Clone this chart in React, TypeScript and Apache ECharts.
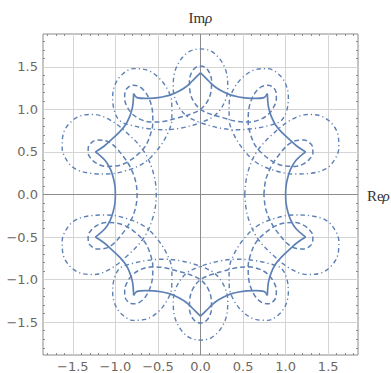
import React, { useEffect, useRef } from "react";
import * as echarts from "echarts";

// ---- values ----
const majorTicks = [-1.5, -1.0, -0.5, 0.0, 0.5, 1.0, 1.5];
const minorTicks = [-1.8, -1.7, -1.6, -1.4, -1.3, -1.2, -1.1, -0.9, -0.8, -0.7, -0.6, -0.4, -0.3, -0.2, -0.1,
  0.1, 0.2, 0.3, 0.4, 0.6, 0.7, 0.8, 0.9, 1.1, 1.2, 1.3, 1.4, 1.6, 1.7, 1.8];

// solid curve: ten arcs between the cusps
const solidArcs: number[][][] = [
  [[1.235, -0.5], [1.12, -0.4], [1.06, -0.3], [1.025, -0.2], [1.005, -0.1], [1.0, 0], [1.005, 0.1], [1.025, 0.2], [1.06, 0.3], [1.12, 0.4], [1.235, 0.5]],
  [[1.235, 0.5], [1.13, 0.57], [1.04, 0.65], [0.95, 0.735], [0.88, 0.82], [0.83, 0.92], [0.8, 1.02], [0.79, 1.1], [0.785, 1.185]],
  [[0.785, 1.185], [0.745, 1.138], [0.65, 1.128], [0.55, 1.132], [0.45, 1.145], [0.35, 1.17], [0.25, 1.215], [0.17, 1.265], [0.1, 1.33], [0.04, 1.39], [0, 1.43]],
  [[0, 1.43], [-0.04, 1.39], [-0.1, 1.33], [-0.17, 1.265], [-0.25, 1.215], [-0.35, 1.17], [-0.45, 1.145], [-0.55, 1.132], [-0.65, 1.128], [-0.745, 1.138], [-0.785, 1.185]],
  [[-0.785, 1.185], [-0.79, 1.1], [-0.8, 1.02], [-0.83, 0.92], [-0.88, 0.82], [-0.95, 0.735], [-1.04, 0.65], [-1.13, 0.57], [-1.235, 0.5]],
  [[-1.235, 0.5], [-1.12, 0.4], [-1.06, 0.3], [-1.025, 0.2], [-1.005, 0.1], [-1.0, 0], [-1.005, -0.1], [-1.025, -0.2], [-1.06, -0.3], [-1.12, -0.4], [-1.235, -0.5]],
  [[-1.235, -0.5], [-1.13, -0.57], [-1.04, -0.65], [-0.95, -0.735], [-0.88, -0.82], [-0.83, -0.92], [-0.8, -1.02], [-0.79, -1.1], [-0.785, -1.185]],
  [[-0.785, -1.185], [-0.745, -1.138], [-0.65, -1.128], [-0.55, -1.132], [-0.45, -1.145], [-0.35, -1.17], [-0.25, -1.215], [-0.17, -1.265], [-0.1, -1.33], [-0.04, -1.39], [0, -1.43]],
  [[0, -1.43], [0.04, -1.39], [0.1, -1.33], [0.17, -1.265], [0.25, -1.215], [0.35, -1.17], [0.45, -1.145], [0.55, -1.132], [0.65, -1.128], [0.745, -1.138], [0.785, -1.185]],
  [[0.785, -1.185], [0.79, -1.1], [0.8, -1.02], [0.83, -0.92], [0.88, -0.82], [0.95, -0.735], [1.04, -0.65], [1.13, -0.57], [1.235, -0.5]],
];

// dashed curve, traced in four consecutive pieces
const dashedA: number[][] = [
  [0.745, 0], [0.765, 0.165], [0.83, 0.33], [0.925, 0.47], [1.03, 0.585], [1.13, 0.635], [1.215, 0.64], [1.28, 0.61],
  [1.318, 0.555], [1.32, 0.485], [1.28, 0.415], [1.21, 0.36], [1.11, 0.33], [0.99, 0.335], [0.87, 0.375], [0.755, 0.455],
  [0.65, 0.565], [0.59, 0.7], [0.56, 0.845], [0.565, 0.985], [0.596, 1.107], [0.65, 1.206], [0.718, 1.266], [0.789, 1.284],
  [0.847, 1.262], [0.886, 1.205], [0.891, 1.124], [0.862, 1.031], [0.797, 0.942], [0.7, 0.88], [0.57, 0.85], [0.42, 0.86],
  [0.27, 0.9], [0.13, 0.94], [0, 1.0], [-0.085, 1.1], [-0.125, 1.22], [-0.13, 1.335], [-0.106, 1.43], [-0.059, 1.49], [0, 1.51],
];
const dashedB: number[][] = [
  [0.059, 1.49], [0.106, 1.43], [0.13, 1.335], [0.125, 1.22], [0.085, 1.1], [0, 1.0], [-0.13, 0.94], [-0.27, 0.9],
  [-0.42, 0.86], [-0.57, 0.85], [-0.7, 0.88], [-0.797, 0.942], [-0.862, 1.031], [-0.891, 1.124], [-0.886, 1.205], [-0.847, 1.262],
  [-0.789, 1.284], [-0.718, 1.266], [-0.65, 1.206], [-0.596, 1.107], [-0.565, 0.985], [-0.56, 0.845], [-0.59, 0.7], [-0.65, 0.565],
  [-0.755, 0.455], [-0.87, 0.375], [-0.99, 0.335], [-1.11, 0.33], [-1.21, 0.36], [-1.28, 0.415], [-1.32, 0.485], [-1.318, 0.555],
  [-1.28, 0.61], [-1.215, 0.64], [-1.13, 0.635], [-1.03, 0.585], [-0.925, 0.47], [-0.83, 0.33], [-0.765, 0.165], [-0.745, 0],
];
const dashedC: number[][] = [
  [-0.765, -0.165], [-0.83, -0.33], [-0.925, -0.47], [-1.03, -0.585], [-1.13, -0.635], [-1.215, -0.64], [-1.28, -0.61], [-1.318, -0.555],
  [-1.32, -0.485], [-1.28, -0.415], [-1.21, -0.36], [-1.11, -0.33], [-0.99, -0.335], [-0.87, -0.375], [-0.755, -0.455], [-0.65, -0.565],
  [-0.59, -0.7], [-0.56, -0.845], [-0.565, -0.985], [-0.596, -1.107], [-0.65, -1.206], [-0.718, -1.266], [-0.789, -1.284], [-0.847, -1.262],
  [-0.886, -1.205], [-0.891, -1.124], [-0.862, -1.031], [-0.797, -0.942], [-0.7, -0.88], [-0.57, -0.85], [-0.42, -0.86], [-0.27, -0.9],
  [-0.13, -0.94], [0, -1.0], [0.085, -1.1], [0.125, -1.22], [0.13, -1.335], [0.106, -1.43], [0.059, -1.49],
];
const dashedD: number[][] = [
  [0, -1.51], [-0.059, -1.49], [-0.106, -1.43], [-0.13, -1.335], [-0.125, -1.22], [-0.085, -1.1], [0, -1.0], [0.13, -0.94],
  [0.27, -0.9], [0.42, -0.86], [0.57, -0.85], [0.7, -0.88], [0.797, -0.942], [0.862, -1.031], [0.891, -1.124], [0.886, -1.205],
  [0.847, -1.262], [0.789, -1.284], [0.718, -1.266], [0.65, -1.206], [0.596, -1.107], [0.565, -0.985], [0.56, -0.845], [0.59, -0.7],
  [0.65, -0.565], [0.755, -0.455], [0.87, -0.375], [0.99, -0.335], [1.11, -0.33], [1.21, -0.36], [1.28, -0.415], [1.32, -0.485],
  [1.318, -0.555], [1.28, -0.61], [1.215, -0.64], [1.13, -0.635], [1.03, -0.585], [0.925, -0.47], [0.83, -0.33], [0.765, -0.165], [0.745, 0],
];

// dot-dashed curve, traced in four consecutive pieces
const dotDashA: number[][] = [
  [0.52, 0], [0.55, 0.24], [0.66, 0.5], [0.86, 0.72], [1.07, 0.88], [1.26, 0.94], [1.42, 0.92], [1.545, 0.83],
  [1.615, 0.7], [1.625, 0.55], [1.57, 0.4], [1.47, 0.3], [1.3, 0.25], [1.1, 0.24], [0.875, 0.28], [0.665, 0.37],
  [0.51, 0.52], [0.394, 0.7], [0.336, 0.89], [0.338, 1.085], [0.396, 1.25], [0.508, 1.387], [0.646, 1.467], [0.788, 1.478],
  [0.911, 1.419], [0.998, 1.303], [1.032, 1.146], [1.009, 0.973], [0.94, 0.86], [0.8, 0.81], [0.63, 0.775], [0.43, 0.76],
  [0.23, 0.78], [0.01, 0.84], [-0.164, 0.925], [-0.275, 1.068], [-0.32, 1.25], [-0.305, 1.43], [-0.235, 1.58], [-0.13, 1.68], [0, 1.71],
];
const dotDashB: number[][] = [
  [0.13, 1.68], [0.235, 1.58], [0.305, 1.43], [0.32, 1.25], [0.275, 1.068], [0.164, 0.925], [-0.01, 0.84], [-0.23, 0.78],
  [-0.43, 0.76], [-0.63, 0.775], [-0.8, 0.81], [-0.94, 0.86], [-1.009, 0.973], [-1.032, 1.146], [-0.998, 1.303], [-0.911, 1.419],
  [-0.788, 1.478], [-0.646, 1.467], [-0.508, 1.387], [-0.396, 1.25], [-0.338, 1.085], [-0.336, 0.89], [-0.394, 0.7], [-0.51, 0.52],
  [-0.665, 0.37], [-0.875, 0.28], [-1.1, 0.24], [-1.3, 0.25], [-1.47, 0.3], [-1.57, 0.4], [-1.625, 0.55], [-1.615, 0.7],
  [-1.545, 0.83], [-1.42, 0.92], [-1.26, 0.94], [-1.07, 0.88], [-0.86, 0.72], [-0.66, 0.5], [-0.55, 0.24], [-0.52, 0],
];
const dotDashC: number[][] = [
  [-0.55, -0.24], [-0.66, -0.5], [-0.86, -0.72], [-1.07, -0.88], [-1.26, -0.94], [-1.42, -0.92], [-1.545, -0.83], [-1.615, -0.7],
  [-1.625, -0.55], [-1.57, -0.4], [-1.47, -0.3], [-1.3, -0.25], [-1.1, -0.24], [-0.875, -0.28], [-0.665, -0.37], [-0.51, -0.52],
  [-0.394, -0.7], [-0.336, -0.89], [-0.338, -1.085], [-0.396, -1.25], [-0.508, -1.387], [-0.646, -1.467], [-0.788, -1.478], [-0.911, -1.419],
  [-0.998, -1.303], [-1.032, -1.146], [-1.009, -0.973], [-0.94, -0.86], [-0.8, -0.81], [-0.63, -0.775], [-0.43, -0.76], [-0.23, -0.78],
  [-0.01, -0.84], [0.164, -0.925], [0.275, -1.068], [0.32, -1.25], [0.305, -1.43], [0.235, -1.58], [0.13, -1.68],
];
const dotDashD: number[][] = [
  [0, -1.71], [-0.13, -1.68], [-0.235, -1.58], [-0.305, -1.43], [-0.32, -1.25], [-0.275, -1.068], [-0.164, -0.925], [0.01, -0.84],
  [0.23, -0.78], [0.43, -0.76], [0.63, -0.775], [0.8, -0.81], [0.94, -0.86], [1.009, -0.973], [1.032, -1.146], [0.998, -1.303],
  [0.911, -1.419], [0.788, -1.478], [0.646, -1.467], [0.508, -1.387], [0.396, -1.25], [0.338, -1.085], [0.336, -0.89], [0.394, -0.7],
  [0.51, -0.52], [0.665, -0.37], [0.875, -0.28], [1.1, -0.24], [1.3, -0.25], [1.47, -0.3], [1.57, -0.4], [1.625, -0.55],
  [1.615, -0.7], [1.545, -0.83], [1.42, -0.92], [1.26, -0.94], [1.07, -0.88], [0.86, -0.72], [0.66, -0.5], [0.55, -0.24], [0.52, 0],
];

const X_MIN = -1.85, X_MAX = 1.85, Y_MIN = -1.885, Y_MAX = 1.885;
const BLUE = "#5E81B5";
const FRAME = "#8a8a8a";
const LABEL = "#6f675e";

function fmt(v: number) {
  return (v < 0 ? "\u2212" : "") + Math.abs(v).toFixed(1);
}

export default function App() {
  const ref = useRef<HTMLDivElement>(null);
  useEffect(() => {
    if (!ref.current) return;
    const chart = echarts.init(ref.current, undefined, { renderer: "svg" });
    const mkAxis = (pos: string, min: number, max: number, ticks: number[], len: number, labels: boolean) => ({
      type: "value", position: pos, min, max, gridIndex: 0,
      axisLine: { show: false, onZero: false },
      splitLine: { show: false },
      axisTick: { show: true, inside: true, length: len, customValues: ticks, lineStyle: { color: FRAME, width: 1 } },
      axisLabel: labels
        ? { show: true, customValues: majorTicks, formatter: fmt, margin: 5, color: LABEL, fontFamily: "DejaVu Sans", fontSize: 13 }
        : { show: false },
    });
    const lineBase = {
      type: "line", xAxisIndex: 0, yAxisIndex: 0, showSymbol: false, symbol: "none",
      animation: false, silent: true, z: 5,
    };
    const series: any[] = [];
    series.push({
      type: "scatter", xAxisIndex: 0, yAxisIndex: 0, data: [[0, 0]], symbolSize: 0, z: 1, silent: true,
      markLine: {
        silent: true, symbol: "none", animation: false, label: { show: false },
        lineStyle: { color: "#d4d4d4", width: 1, type: "solid" },
        data: [
          ...majorTicks.filter((v) => v !== 0).map((v) => ({ xAxis: v })),
          ...majorTicks.filter((v) => v !== 0).map((v) => ({ yAxis: v })),
        ],
      },
    });
    series.push({
      type: "scatter", xAxisIndex: 0, yAxisIndex: 0, data: [[0, 0]], symbolSize: 0, z: 2, silent: true,
      markLine: {
        silent: true, symbol: "none", animation: false, label: { show: false },
        lineStyle: { color: "#8c8c8c", width: 1, type: "solid" },
        data: [{ xAxis: 0 }, { yAxis: 0 }],
      },
    });
    solidArcs.forEach((arc) => {
      series.push({ ...lineBase, data: arc, smooth: 0.35, lineStyle: { color: BLUE, width: 1.7, type: "solid" } });
    });
    const dashed = [...dashedA, ...dashedB, ...dashedC, ...dashedD];
    const dotDash = [...dotDashA, ...dotDashB, ...dotDashC, ...dotDashD];
    series.push({ ...lineBase, data: dashed, smooth: 0.35, lineStyle: { color: BLUE, width: 1.5, type: [5, 3] } });
    series.push({ ...lineBase, data: dotDash, smooth: 0.35, lineStyle: { color: BLUE, width: 1.4, type: [4.5, 3, 1.2, 3] } });

    chart.setOption({
      animation: false,
      backgroundColor: "#ffffff",
      grid: { left: 43, top: 34, width: 315, height: 321, show: true, borderColor: FRAME, borderWidth: 1, backgroundColor: "transparent" },
      xAxis: [
        mkAxis("bottom", X_MIN, X_MAX, majorTicks, 4, true),
        mkAxis("bottom", X_MIN, X_MAX, minorTicks, 2, false),
        mkAxis("top", X_MIN, X_MAX, majorTicks, 4, false),
        mkAxis("top", X_MIN, X_MAX, minorTicks, 2, false),
      ],
      yAxis: [
        mkAxis("left", Y_MIN, Y_MAX, majorTicks, 4, true),
        mkAxis("left", Y_MIN, Y_MAX, minorTicks, 2, false),
        mkAxis("right", Y_MIN, Y_MAX, majorTicks, 4, false),
        mkAxis("right", Y_MIN, Y_MAX, minorTicks, 2, false),
      ],
      series,
      graphic: [
        { type: "text", x: 188.5, y: 17.5, style: { text: "Im", fill: "#333", fontFamily: "Liberation Serif", fontSize: 15, verticalAlign: "middle", align: "left" } },
        { type: "text", x: 205, y: 17.5, style: { text: "\u03c1", fill: "#333", fontFamily: "Liberation Serif", fontStyle: "italic", fontSize: 15, verticalAlign: "middle", align: "left" } },
        { type: "text", x: 367, y: 196, style: { text: "Re", fill: "#333", fontFamily: "Liberation Serif", fontSize: 15, verticalAlign: "middle", align: "left" } },
        { type: "text", x: 382.5, y: 196, style: { text: "\u03c1", fill: "#333", fontFamily: "Liberation Serif", fontStyle: "italic", fontSize: 15, verticalAlign: "middle", align: "left" } },
      ],
    });
    return () => chart.dispose();
  }, []);
  return <div ref={ref} style={{ position: "fixed", left: 0, top: 0, width: 391, height: 373, background: "#fff" }} />;
}
